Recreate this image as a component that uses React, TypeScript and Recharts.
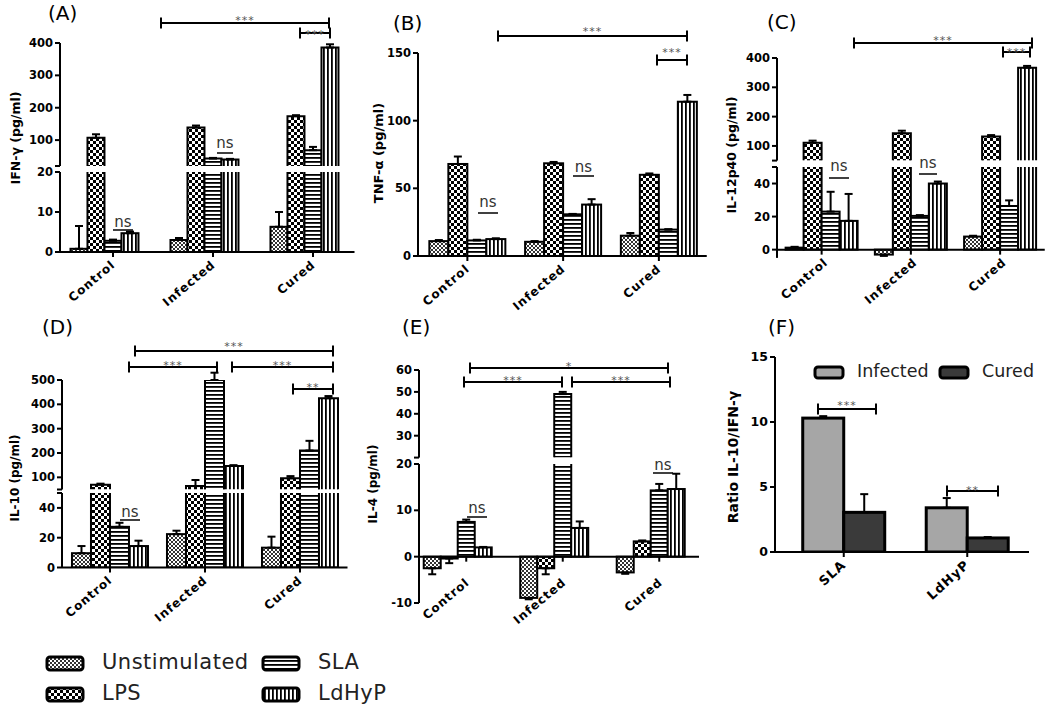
import React from "react";
import { BarChart, Bar, XAxis, YAxis, ErrorBar, ReferenceLine } from "recharts";

const FONT = "'DejaVu Sans', 'Liberation Sans', sans-serif";

const GROUPS = ["Control", "Infected", "Cured"];
const STIMS = ["Unstimulated", "LPS", "SLA", "LdHyP"];
const STIM_FILLS = ["url(#pUnstim)", "url(#pLps)", "url(#pSla)", "url(#pLdhyp)"];

// rows: Unstimulated, LPS, SLA, LdHyP -- columns: Control, Infected, Cured
const IFN_MEAN = [[0.8, 3.0, 6.3], [107, 139, 174], [2.8, 43, 69], [4.7, 40, 386]];
const IFN_SEM = [[5.7, 0.5, 3.7], [11, 6, 3], [0.3, 2, 10], [0.4, 2, 10]];
const IFN_TICKS_HI = [20, 100, 200, 300, 400];
const IFN_TICKS_LO = [0, 10, 20];

const TNF_MEAN = [[11, 10.5, 15], [68, 68.5, 60], [11.5, 30.8, 19.5], [12.5, 38, 114]];
const TNF_SEM = [[0.8, 0.5, 2], [5.5, 1, 1], [0.5, 0.3, 0.3], [0.6, 4, 5]];
const TNF_TICKS = [0, 50, 100, 150];

const IL12_MEAN = [[1.2, -3, 7.9], [111, 143, 132], [23, 20.4, 26.4], [17.4, 40, 367]];
const IL12_SEM = [[0.5, 0.8, 0.5], [7, 9, 5], [12, 0.5, 3.4], [16.3, 1.2, 6]];
const IL12_TICKS_HI = [50, 100, 200, 300, 400];
const IL12_TICKS_LO = [0, 20, 40, 50];

const IL10_MEAN = [[9.6, 22.4, 13.3], [70, 64, 96], [27.3, 500, 210], [14.4, 147, 425]];
const IL10_SEM = [[4.8, 2.3, 7.4], [4, 25, 9], [2.7, 30, 40], [3.6, 3, 9]];
const IL10_TICKS_HI = [50, 100, 200, 300, 400, 500];
const IL10_TICKS_LO = [0, 20, 40, 50];

const IL4_MEAN = [[-2.5, -8.9, -3.4], [-0.4, -2.5, 3.3], [7.5, 49, 14.3], [2.0, 6.2, 14.6]];
const IL4_SEM = [[1.3, 0.3, 0.3], [1.0, 1.3, 0.2], [0.5, 1, 1.4], [0.1, 1.4, 3.3]];
const IL4_TICKS_HI = [20, 30, 40, 50, 60];
const IL4_TICKS_LO = [-10, 0, 10, 20];

// panel F: rows Infected, Cured -- columns SLA, LdHyP
const RATIO_CATS = ["SLA", "LdHyP"];
const RATIO_SERIES = ["Infected", "Cured"];
const RATIO_FILLS = ["#a6a6a6", "#3a3a3a"];
const RATIO_MEAN = [[10.3, 3.4], [3.05, 1.08]];
const RATIO_SEM = [[0.15, 0.75], [1.4, 0.07]];
const RATIO_TICKS = [0, 5, 10, 15];

const LETTERS = [
  { t: "(A)", x: 48, y: 20 }, { t: "(B)", x: 393, y: 30 }, { t: "(C)", x: 767, y: 29 },
  { t: "(D)", x: 42, y: 334 }, { t: "(E)", x: 402, y: 334 }, { t: "(F)", x: 768, y: 334 },
];

const YLABELS = [
  { t: "IFN-γ (pg/ml)", x: 16, y: 138, size: 12.5 },
  { t: "TNF-α (pg/ml)", x: 378, y: 153, size: 13 },
  { t: "IL-12p40 (pg/ml)", x: 732, y: 155, size: 12.5 },
  { t: "IL-10 (pg/ml)", x: 15, y: 478, size: 12 },
  { t: "IL-4 (pg/ml)", x: 373, y: 484, size: 12 },
  { t: "Ratio IL-10/IFN-γ", x: 733, y: 457, size: 14 },
];

const BRACKETS = [
  { x1: 161, x2: 329, y: 23, label: "***", ly: 17 },
  { x1: 300, x2: 330, y: 33, label: "***", ly: 31 },
  { x1: 498, x2: 687, y: 36, label: "***", ly: 28 },
  { x1: 657, x2: 687, y: 60, label: "***", ly: 49 },
  { x1: 854, x2: 1032, y: 43, label: "***", ly: 37 },
  { x1: 1003, x2: 1030, y: 52, label: "***", ly: 49 },
  { x1: 135, x2: 333, y: 351, label: "***", ly: 343 },
  { x1: 129, x2: 217, y: 367, label: "***", ly: 362 },
  { x1: 232, x2: 333, y: 367, label: "***", ly: 362 },
  { x1: 293, x2: 333, y: 389, label: "**", ly: 384 },
  { x1: 470, x2: 668, y: 368, label: "*", ly: 363 },
  { x1: 464, x2: 562, y: 382, label: "***", ly: 377 },
  { x1: 572, x2: 670, y: 382, label: "***", ly: 377 },
  { x1: 818, x2: 876, y: 409, label: "***", ly: 402 },
  { x1: 947, x2: 998, y: 491, label: "**", ly: 487 },
];

const NS = [
  { x1: 113, x2: 133, y: 230, ty: 227 },
  { x1: 217, x2: 233, y: 153, ty: 148 },
  { x1: 478, x2: 498, y: 213, ty: 207 },
  { x1: 573, x2: 594, y: 176, ty: 172 },
  { x1: 829, x2: 849, y: 178, ty: 171 },
  { x1: 919, x2: 937, y: 174, ty: 168 },
  { x1: 120, x2: 140, y: 520, ty: 517 },
  { x1: 467, x2: 487, y: 517, ty: 513 },
  { x1: 653, x2: 673, y: 473, ty: 470 },
];

type Seg = { domain: [number, number]; ticks: number[]; hidden?: number[]; top: number; bottom: number; upper?: boolean; zero?: boolean };
type Panel = {
  cats: string[]; mean: number[][]; sem: number[][]; fills: string[];
  axisX: number; bandStart: number; bandW: number; barW: number; tickShift: number;
  labelDx: number; labelDy: number;
  tickFont: number; catFont: number; angle: number; sw: number; segs: Seg[];
};

const stimPanel = (mean: number[][], sem: number[][], geo: any, segs: Seg[]): Panel => ({
  cats: GROUPS, mean, sem, fills: STIM_FILLS, tickFont: 11.5, catFont: 12, angle: -40, sw: 2,
  labelDx: 3, labelDy: 14, segs, ...geo,
});

const PANELS: Panel[] = [
  stimPanel(IFN_MEAN, IFN_SEM, { axisX: 60, bandStart: 54.5, bandW: 100, barW: 17, tickShift: 8.5 }, [
    { domain: [20, 400], ticks: IFN_TICKS_HI, hidden: [20], top: 43, bottom: 166, upper: true },
    { domain: [0, 20], ticks: IFN_TICKS_LO, top: 172, bottom: 252 },
  ]),
  stimPanel(TNF_MEAN, TNF_SEM, { axisX: 418, bandStart: 419.5, bandW: 95.75, barW: 19, tickShift: 0 }, [
    { domain: [0, 150], ticks: TNF_TICKS, top: 53, bottom: 256 },
  ]),
  stimPanel(IL12_MEAN, IL12_SEM, { axisX: 776.5, bandStart: 776.5, bandW: 89.25, barW: 18, tickShift: 0, labelDx: 7 }, [
    { domain: [50, 400], ticks: IL12_TICKS_HI, hidden: [50], top: 58, bottom: 160.6, upper: true },
    { domain: [-5, 50], ticks: IL12_TICKS_LO, hidden: [50], top: 166.7, bottom: 257.6, zero: true },
  ]),
  stimPanel(IL10_MEAN, IL10_SEM, { axisX: 61.5, bandStart: 62, bandW: 95, barW: 19, tickShift: 0 }, [
    { domain: [50, 500], ticks: IL10_TICKS_HI, hidden: [50], top: 380, bottom: 489.5, upper: true },
    { domain: [0, 50], ticks: IL10_TICKS_LO, hidden: [50], top: 492.8, bottom: 567.3 },
  ]),
  stimPanel(IL4_MEAN, IL4_SEM, { axisX: 419, bandStart: 409.5, bandW: 96.5, barW: 17, tickShift: 8.5, labelDx: 4, labelDy: 27 }, [
    { domain: [20, 60], ticks: IL4_TICKS_HI, hidden: [20], top: 370, bottom: 457.6, upper: true },
    { domain: [-10, 20], ticks: IL4_TICKS_LO, top: 464, bottom: 603, zero: true },
  ]),
  {
    cats: RATIO_CATS, mean: RATIO_MEAN, sem: RATIO_SEM, fills: RATIO_FILLS,
    axisX: 775, bandStart: 782, bandW: 123.5, barW: 41, tickShift: 0, labelDx: 3, labelDy: 14,
    tickFont: 12.5, catFont: 13, angle: -42, sw: 3,
    segs: [{ domain: [0, 15], ticks: RATIO_TICKS, top: 357.3, bottom: 552.3 }],
  },
];

function HatchBar(props: any) {
  const { x, y, width, height, fill, openBase, sw } = props;
  if (x == null || y == null || !width || !height) return null;
  const top = Math.min(y, y + height);
  const h = Math.abs(height);
  if (openBase) {
    const b = top + h;
    return (
      <g>
        <rect x={x} y={top} width={width} height={h} fill={fill} />
        <path d={`M${x},${b}L${x},${top}L${x + width},${top}L${x + width},${b}`} fill="none" stroke="#000" strokeWidth={sw} />
      </g>
    );
  }
  return <rect x={x} y={top} width={width} height={h} fill={fill} stroke="#000" strokeWidth={sw} />;
}

function CatTick(props: any) {
  const { x, y, payload, shift, lift, size, angle, ldx, ldy } = props;
  const tx = x + shift;
  const ty = y - lift;
  const ax = tx + ldx;
  const ay = ty + ldy;
  return (
    <g>
      <line x1={tx} x2={tx} y1={ty} y2={ty + 5} stroke="#000" strokeWidth={2} />
      <text x={ax} y={ay} textAnchor="end" transform={`rotate(${angle}, ${ax}, ${ay})`}
        fontFamily={FONT} fontWeight="bold" fontSize={size} letterSpacing={1} fill="#000">
        {payload.value}
      </text>
    </g>
  );
}

const YW = 45;
const MR = 12;
const XH = 80;

function SegChart({ p, seg, showX }: { p: Panel; seg: Seg; showX: boolean }) {
  const MT = 10;
  const MB = showX ? 0 : 4;
  const plotW = p.bandStart + p.bandW * p.cats.length - p.axisX;
  const width = YW + plotW + MR;
  const plotH = seg.bottom - seg.top;
  const height = MT + plotH + (showX ? XH : 0) + MB;
  const n = p.mean.length;
  const gap = (p.bandW - n * p.barW) / 2 - 0.02;
  const [lo, hi] = seg.domain;
  const lift = seg.zero ? ((0 - lo) / (hi - lo)) * plotH : 0;

  const data = p.cats.map((c, i) => {
    const row: any = { cat: c };
    p.mean.forEach((m, s) => {
      const v = m[i];
      const e = p.sem[s][i];
      const inSeg = seg.upper ? v > lo && v <= hi : v >= lo && v <= hi;
      row["v" + s] = seg.upper && v <= lo ? null : v;
      row["e" + s] = inSeg ? (v < 0 ? [e, 0] : [0, e]) : null;
    });
    return row;
  });

  return (
    <div style={{ position: "absolute", left: p.axisX - YW, top: seg.top - MT, width, height }}>
      <BarChart width={width} height={height} data={data}
        margin={{ top: MT, right: MR, bottom: MB, left: 0 }}
        barCategoryGap={gap} barGap={0}>
        <XAxis dataKey="cat" hide={!showX} height={showX ? XH : 0}
          padding={{ left: p.bandStart - p.axisX, right: 0 }} interval={0}
          tickLine={false} tickSize={0} tickMargin={0}
          axisLine={showX && !seg.zero ? { stroke: "#000", strokeWidth: 2 } : false}
          tick={(tp: any) => (
            <CatTick {...tp} shift={p.tickShift} lift={lift} size={p.catFont} angle={p.angle} ldx={p.labelDx} ldy={p.labelDy} />
          )} />
        <YAxis type="number" domain={seg.domain} allowDataOverflow ticks={seg.ticks} interval={0} width={YW}
          tickFormatter={(v: number) => (seg.hidden && seg.hidden.includes(v) ? "" : String(v))}
          axisLine={{ stroke: "#000", strokeWidth: 2 }} tickLine={{ stroke: "#000", strokeWidth: 2 }}
          tickSize={5} tickMargin={2}
          tick={{ fill: "#000", fontSize: p.tickFont, fontWeight: 700, fontFamily: FONT }} />
        {showX && seg.zero && <ReferenceLine y={0} stroke="#000" strokeWidth={2} />}
        {p.mean.map((_, s) => (
          <Bar key={s} dataKey={"v" + s} fill={p.fills[s]} isAnimationActive={false}
            shape={(bp: any) => <HatchBar {...bp} openBase={!!seg.upper} sw={p.sw} />}>
            <ErrorBar dataKey={"e" + s} width={4} strokeWidth={2} stroke="#000" direction="y" isAnimationActive={false} />
          </Bar>
        ))}
      </BarChart>
    </div>
  );
}

const LEGEND_POS = [
  { i: 0, x: 47, y: 657 }, { i: 2, x: 263, y: 657 },
  { i: 1, x: 47, y: 688 }, { i: 3, x: 263, y: 688 },
];

function Overlay() {
  return (
    <svg width={1050} height={707} style={{ position: "absolute", left: 0, top: 0, pointerEvents: "none" }}>
      {LETTERS.map((l) => (
        <text key={l.t} x={l.x} y={l.y} fontFamily={FONT} fontSize={20} fill="#000">{l.t}</text>
      ))}
      {YLABELS.map((l) => (
        <text key={l.t} x={l.x} y={l.y} dy="0.35em" textAnchor="middle" transform={`rotate(-90, ${l.x}, ${l.y})`}
          fontFamily={FONT} fontWeight="bold" fontSize={l.size} fill="#000">{l.t}</text>
      ))}
      {BRACKETS.map((b, k) => (
        <g key={k}>
          <line x1={b.x1} x2={b.x2} y1={b.y} y2={b.y} stroke="#000" strokeWidth={2} />
          <line x1={b.x1} x2={b.x1} y1={b.y - 5.5} y2={b.y + 5.5} stroke="#000" strokeWidth={2} />
          <line x1={b.x2} x2={b.x2} y1={b.y - 5.5} y2={b.y + 5.5} stroke="#000" strokeWidth={2} />
          <text x={(b.x1 + b.x2) / 2} y={b.ly + 7} textAnchor="middle" fontFamily={FONT} fontSize={11}
            letterSpacing={1} fill="#555">{b.label}</text>
        </g>
      ))}
      {NS.map((s, k) => (
        <g key={k}>
          <line x1={s.x1} x2={s.x2} y1={s.y} y2={s.y} stroke="#000" strokeWidth={1.5} />
          <text x={(s.x1 + s.x2) / 2} y={s.ty} textAnchor="middle" fontFamily={FONT} fontSize={15} fill="#333">ns</text>
        </g>
      ))}
      {LEGEND_POS.map((l) => (
        <g key={l.i}>
          <rect x={l.x} y={l.y} width={36} height={13} rx={3} fill={STIM_FILLS[l.i]} stroke="#000" strokeWidth={3} />
          <text x={l.x + 55} y={l.y + 12} fontFamily={FONT} fontSize={21} letterSpacing={0.5} fill="#222">{STIMS[l.i]}</text>
        </g>
      ))}
      {RATIO_SERIES.map((s, i) => (
        <g key={s}>
          <rect x={815 + i * 125} y={367} width={28} height={11} rx={3} fill={RATIO_FILLS[i]} stroke="#000" strokeWidth={3} />
          <text x={857 + i * 125} y={377} fontFamily={FONT} fontSize={17.5} fill="#222">{s}</text>
        </g>
      ))}
    </svg>
  );
}

export default function App() {
  return (
    <div style={{ position: "absolute", left: 0, top: 0, width: 1050, height: 707, background: "#fff", fontFamily: FONT }}>
      <svg width={1} height={1} style={{ position: "absolute", left: 0, top: 0 }}>
        <defs>
          <pattern id="pUnstim" width={4} height={4} patternUnits="userSpaceOnUse">
            <rect width={4} height={4} fill="#fff" />
            <rect width={2} height={2} fill="#333" />
            <rect x={2} y={2} width={2} height={2} fill="#333" />
          </pattern>
          <pattern id="pLps" width={6} height={6} patternUnits="userSpaceOnUse">
            <rect width={6} height={6} fill="#fff" />
            <rect width={3} height={3} fill="#000" />
            <rect x={3} y={3} width={3} height={3} fill="#000" />
          </pattern>
          <pattern id="pSla" width={4} height={4} patternUnits="userSpaceOnUse">
            <rect width={4} height={4} fill="#fff" />
            <rect width={4} height={1.8} fill="#000" />
          </pattern>
          <pattern id="pLdhyp" width={4} height={4} patternUnits="userSpaceOnUse">
            <rect width={4} height={4} fill="#fff" />
            <rect width={1.8} height={4} fill="#000" />
          </pattern>
        </defs>
      </svg>
      {PANELS.map((p, k) =>
        p.segs.map((seg, j) => (
          <SegChart key={`${k}-${j}`} p={p} seg={seg} showX={j === p.segs.length - 1} />
        ))
      )}
      <Overlay />
    </div>
  );
}
